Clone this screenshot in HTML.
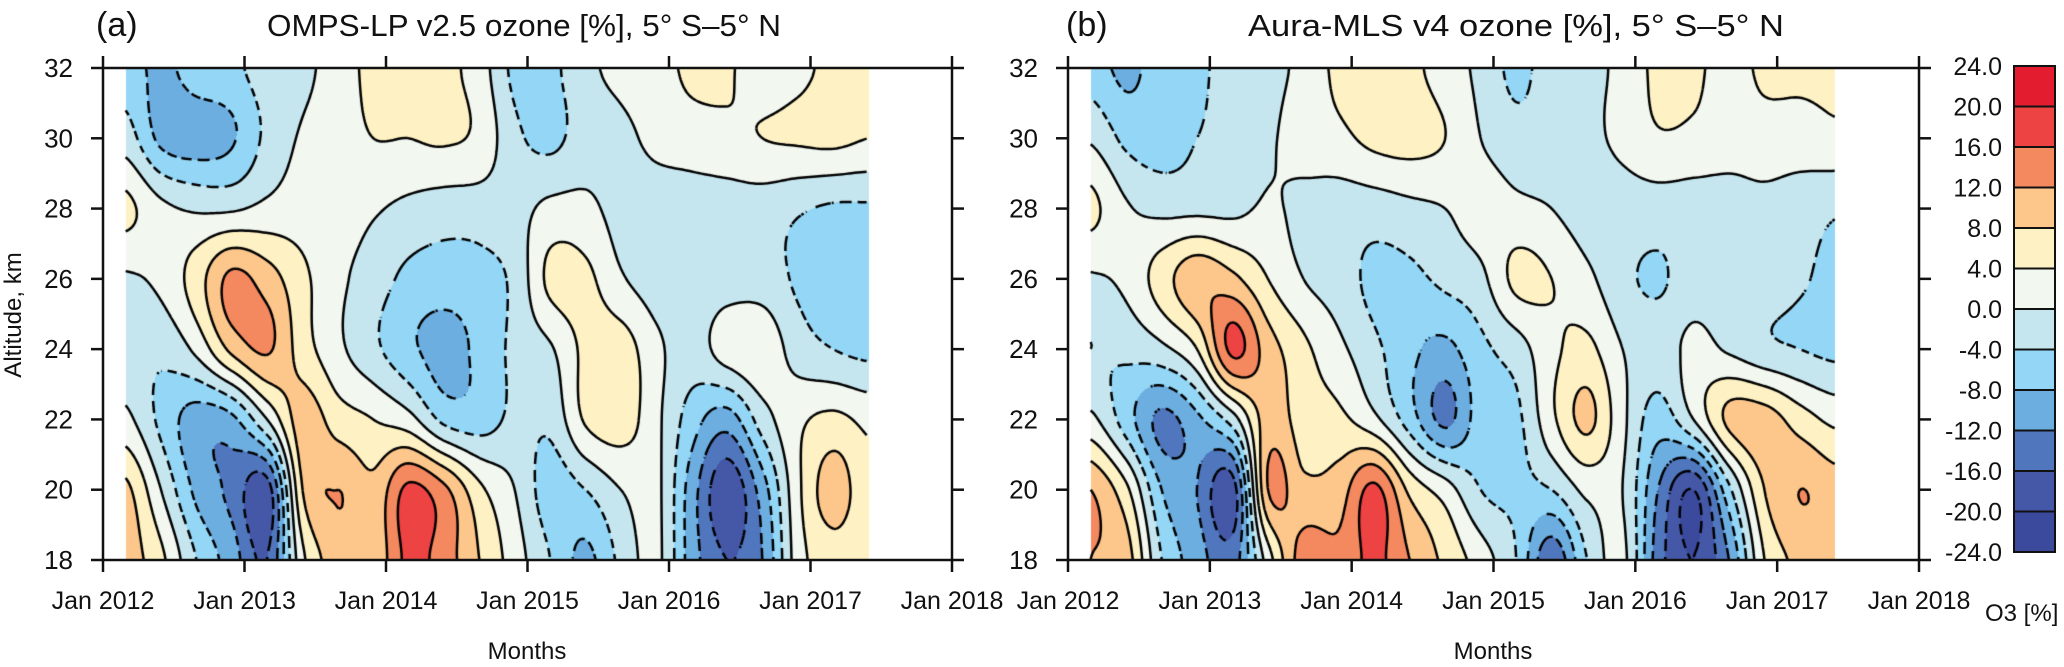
<!DOCTYPE html>
<html><head><meta charset="utf-8"><style>
html,body{margin:0;padding:0;background:#fff;}
#wrap{position:relative;width:2064px;height:667px;overflow:hidden;font-family:"Liberation Sans",sans-serif;}
canvas{position:absolute;}
svg{position:absolute;left:0;top:0;}
</style></head><body>
<div id="wrap">
<canvas id="cva"></canvas>
<canvas id="cvb"></canvas>
<svg id="ax" width="2064" height="667"></svg>
</div>
<script>
// ---- data ----
const timeAxis = [2012.16,2012.41,2012.66,2012.91,2013.16,2013.41,2013.66,2013.91,2014.16,2014.41,2014.66,2014.91,2015.16,2015.41,2015.66,2015.91,2016.16,2016.41,2016.66,2016.91,2017.16,2017.41];
const altitudes = [18,20,22,24,26,28,30,32];
const ompsZ18 = [10,5,-4,-10,-16,3,10,9,17,14,8,2,-4,-9,-3,1,-10,-16,-12,2,6,4];
const ompsZ20 = [9,0,-9,-13,-18,8,12,9,17,13,5,0,-6,-4,0,1,-10,-19,-10,3,10,5];
const ompsZ22 = [1,-5,-10,-9,0,10,6,4,1.5,-5,-6,-3,-3,4.5,6,1,-6,-10,-2,3,5,3];
const ompsZ24 = [-2,-3,1,9,12.5,6,1,-3,-7,-9.5,-7,-3,-0.5,5,6,1,-2,2,3,-2,-4,-5];
const ompsZ26 = [-0.5,1,6,13,10,5,1,-2,-5,-6,-5.5,-3,5,5,0.5,-2,-3,-2,-2,-4.5,-5,-5];
const ompsZ28 = [5,1,-0.5,-0.5,1,2,2,0.5,-1,-2,-2,-1.5,1,1,-1.5,-2,-2,-2,-2,-3.5,-4.5,-4.5];
const ompsZ30 = [-2,-9,-10,-8.5,-3,0.5,2,4,4,4.5,3,-3,-5,-2,-1,1,2,3,4,4.5,5,4];
const ompsZ32 = [-6,-9,-6,-5,-2,-1,2,5,5,5,2,-5,-5,-1,1,2,5,4.5,2,3,5,5];
const mlsZ18 = [12,10,-4,-10,-14,2,14,13,17,12,7,2,-4,-15,-4,1,-14,-20,-12,4,9,10];
const mlsZ20 = [12,5,-8,-12,-18,12,9,10,17,7,2,-4,-5,-4,1,0,-12,-20,-5,8,12,10];
const mlsZ22 = [1,-6,-13,-9,-2,10,6,5,1,-6,-13,-6,-5,3,9,1,-6,0,9,10,6,3];
const mlsZ24 = [-4,-3,-1,4,17,10,5,1,-3,-7,-9,-5,-2,3,5,0,-2,1,-0.5,-3,-4,-5];
const mlsZ26 = [-0.5,1,6,11,9,4,0,-2,-5,-5,-3,-1,5,4,1,-3,-4.5,-2,-2,-2,-3.5,-5];
const mlsZ28 = [5,0.5,-1,-1,-1,0.5,-1,-2,-2,-1,0,2,1,0,-2,-2,-2,-2,-1.5,-1,-2,-3.5];
const mlsZ30 = [-0.5,-5,-6,-4,-2,-0.5,1.5,3,5,5.5,4,0,-2.5,-2,-1,1,3.5,3,1.5,2,2,3];
const mlsZ32 = [-6,-9,-6,-5,-2,-1,1,5,5.5,5,2,-1,-5,-2,-1,1,5,5,2,5,5,5];
const levels = [-24,-20,-16,-12,-8,-4,0,4,8,12,16,20,24];
const levelLabels = ["24.0","20.0","16.0","12.0","8.0","4.0","0.0","-4.0","-8.0","-12.0","-16.0","-20.0","-24.0"];
const yearTicks = [2012,2013,2014,2015,2016,2017,2018];
const altTicks = [18,20,22,24,26,28,30,32];
const bandColors = ["#3C4A9E","#4558A8","#5077BD","#6DAEE1","#93D6F6","#C6E6EF","#F2F7F0","#FEF1C3","#FDC78C","#F4885F","#EE4343","#E31D2F"];

const ompsRows = [ompsZ18,ompsZ20,ompsZ22,ompsZ24,ompsZ26,ompsZ28,ompsZ30,ompsZ32];
const mlsRows = [mlsZ18,mlsZ20,mlsZ22,mlsZ24,mlsZ26,mlsZ28,mlsZ30,mlsZ32];

const panels = [
 {id:'a', canvas:'cva', rows:ompsRows, L:103, R:952, T:68, B:560, title:"OMPS-LP v2.5 ozone [%], 5° S–5° N", tx:267, tw:514, lx:96, months:527, ylab:true},
 {id:'b', canvas:'cvb', rows:mlsRows, L:1068, R:1919, T:68, B:560, title:"Aura-MLS v4 ozone [%], 5° S–5° N", tx:1248, tw:536, lx:1066, months:1493, ylab:false}
];

function cr(p0,p1,p2,p3,t){return 0.5*((2*p1)+(-p0+p2)*t+(2*p0-5*p1+4*p2-p3)*t*t+(-p0+3*p1-3*p2+p3)*t*t*t);}
function field(rows,u,v){
  const nr=rows.length,nc=rows[0].length;
  const g=(r,c)=>rows[Math.max(0,Math.min(nr-1,r))][Math.max(0,Math.min(nc-1,c))];
  const c0=Math.min(nc-2,Math.floor(u)),r0=Math.min(nr-2,Math.floor(v));
  const fu=u-c0,fv=v-r0;const col=[];
  for(let k=-1;k<=2;k++){const r=r0+k;col.push(cr(g(r,c0-1),g(r,c0),g(r,c0+1),g(r,c0+2),fu));}
  return cr(col[0],col[1],col[2],col[3],fv);
}
function bandIdx(v){let i=Math.floor((v-levels[0])/4);return Math.max(0,Math.min(bandColors.length-1,i));}
function hex(c){return [parseInt(c.substr(1,2),16),parseInt(c.substr(3,2),16),parseInt(c.substr(5,2),16)];}
const rgb=bandColors.map(hex);

panels.forEach(p=>{
  const W=p.R-p.L,H=p.B-p.T;const yp=W/6;
  const cv=document.getElementById(p.canvas);cv.width=W;cv.height=H;cv.style.left=p.L+'px';cv.style.top=p.T+'px';
  const ctx=cv.getContext('2d');const img=ctx.createImageData(W,H);
  const dt=timeAxis[1]-timeAxis[0];
  const xOfT=t=>(t-2012)*yp;
  const uOfX=x=>((x/yp+2012)-timeAxis[0])/dt, vOfY=y=>((18+(H-y)*14/H)-altitudes[0])/(altitudes[1]-altitudes[0]);
  const nc=timeAxis.length-1,nr=altitudes.length-1;
  for(let y=0;y<H;y++){const v=vOfY(y+0.5);
    for(let x=0;x<W;x++){const u=uOfX(x+0.5);const o=(y*W+x)*4;
      if(u<0||u>nc||v<0||v>nr){img.data[o+3]=0;continue;}
      const c=rgb[bandIdx(field(p.rows,u,v))];img.data[o]=c[0];img.data[o+1]=c[1];img.data[o+2]=c[2];img.data[o+3]=255;}}
  ctx.putImageData(img,0,0);
  const x0=xOfT(timeAxis[0]),x1=xOfT(timeAxis[nc]);const s=3;
  const NX=Math.floor((x1-x0)/s),NY=Math.floor(H/s);
  const vals=[];for(let j=0;j<=NY;j++){const row=[];for(let i=0;i<=NX;i++){row.push(field(p.rows,uOfX(x0+i*s),vOfY(j*H/NY)));}vals.push(row);}
  const sy=H/NY;
  ctx.strokeStyle='#000';ctx.lineWidth=2.5;ctx.lineCap='butt';
  for(let li=1;li<levels.length-1;li++){const L=levels[li];ctx.beginPath();
    for(let j=0;j<NY;j++)for(let i=0;i<NX;i++){
      if(L<0&&((i+j)%6)>=4)continue;
      const a=vals[j][i],b=vals[j][i+1],c=vals[j+1][i+1],d=vals[j+1][i];
      const X=x0+i*s,Y=j*sy;const pts=[];
      const e=(p1,p2,xa,ya,xb,yb)=>{if((p1<L)!==(p2<L)){const t=(L-p1)/(p2-p1);pts.push([xa+(xb-xa)*t,ya+(yb-ya)*t]);}};
      e(a,b,X,Y,X+s,Y);e(b,c,X+s,Y,X+s,Y+sy);e(c,d,X+s,Y+sy,X,Y+sy);e(d,a,X,Y+sy,X,Y);
      if(pts.length>=2){ctx.moveTo(pts[0][0],pts[0][1]);ctx.lineTo(pts[1][0],pts[1][1]);}
      if(pts.length===4){ctx.moveTo(pts[2][0],pts[2][1]);ctx.lineTo(pts[3][0],pts[3][1]);}
    }ctx.stroke();}
});

const NS='http://www.w3.org/2000/svg';const svg=document.getElementById('ax');
function mk(tag,attrs,txt){const el=document.createElementNS(NS,tag);for(const k in attrs)el.setAttribute(k,attrs[k]);if(txt!==undefined)el.textContent=txt;svg.appendChild(el);return el;}
panels.forEach(p=>{
  const W=p.R-p.L,H=p.B-p.T;const xs=t=>p.L+(t-2012)*W/6, ys=z=>p.B-(z-18)*H/14;
  let el=mk('rect',{x:p.L,y:p.T,width:W,height:H,fill:'none',stroke:'#111','stroke-width':2.5});
  
  
  yearTicks.forEach((yr,i)=>{const x=xs(yr);
    el=mk('line',{x1:x,x2:x,y1:p.T-12,y2:p.T,stroke:'#111','stroke-width':2.5});
    
    
    el=mk('line',{x1:x,x2:x,y1:p.B,y2:p.B+12,stroke:'#111','stroke-width':2.5});
    
    
    el=mk('text',{x:x,y:609,'font-size':25,'text-anchor':'middle',fill:'#111'},'Jan '+yr);
    
    
  });
  altTicks.forEach(z=>{const y=ys(z);
    el=mk('line',{x1:p.L-12,x2:p.L,y1:y,y2:y,stroke:'#111','stroke-width':2.5});
    
    
    el=mk('line',{x1:p.R,x2:p.R+12,y1:y,y2:y,stroke:'#111','stroke-width':2.5});
    
    
    el=mk('text',{x:p.L-30,y:y+9,'font-size':26,'text-anchor':'end',fill:'#111'},String(z));
    
    
  });
  el=mk('text',{x:p.lx,y:36,'font-size':34,fill:'#111'},'('+p.id+')');
  
  
  el=mk('text',{x:p.tx,y:36,'font-size':31,fill:'#111',textLength:p.tw,lengthAdjust:'spacingAndGlyphs'},p.title);
  
  
  el=mk('text',{x:p.months,y:659,'font-size':24,'text-anchor':'middle',fill:'#111'},'Months');
  
  
  if(p.ylab){
    el=mk('text',{x:0,y:0,'font-size':24,'text-anchor':'middle',fill:'#111',transform:'translate(21,315) rotate(-90)'},'Altitude, km');
    
    
  }
});
const cbT=66,cbB=552,cbL=2014,cbW=41;const bh=(cbB-cbT)/bandColors.length;
bandColors.forEach((c,i)=>{
  const el=mk('rect',{x:cbL,y:cbB-(i+1)*bh,width:cbW,height:bh,fill:c,stroke:'#111','stroke-width':2});
  
  
});
levelLabels.forEach((lab,i)=>{
  const el=mk('text',{x:2002,y:cbT+i*bh+9,'font-size':25,'text-anchor':'end',fill:'#111'},lab);
  
  
});
let cbt=mk('text',{x:1985,y:621,'font-size':24,fill:'#111'},'O3 [%]');


</script>
</body></html>
